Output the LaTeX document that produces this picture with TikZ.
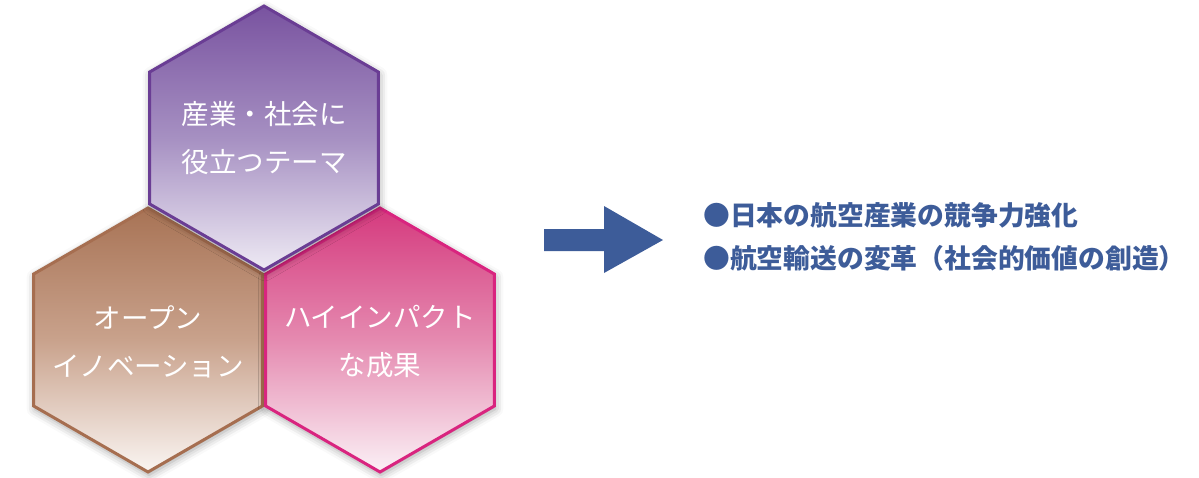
\documentclass[tikz,border=0pt]{standalone}
\usepackage{fontspec}
\newfontfamily\jp{Noto Sans CJK JP}
\usetikzlibrary{shapes.geometric,shadows.blur}
\definecolor{purpTop}{HTML}{7953A0}
\definecolor{purpMid}{HTML}{A690C2}
\definecolor{purpBot}{HTML}{EEEAF4}
\definecolor{purpLine}{HTML}{6A3D94}
\definecolor{brTop}{HTML}{A87355}
\definecolor{brMid}{HTML}{C9A28C}
\definecolor{brBot}{HTML}{FAF5F2}
\definecolor{brLine}{HTML}{A66E50}
\definecolor{pkTop}{HTML}{D53A7E}
\definecolor{pkMid}{HTML}{E58AB0}
\definecolor{pkBot}{HTML}{FBF1F6}
\definecolor{pkLine}{HTML}{D9247F}
\definecolor{arrowblue}{HTML}{3D5C99}
\tikzset{
  hexa/.style={regular polygon, regular polygon sides=6, shape border rotate=30,
    minimum size=264pt, inner sep=0pt, line width=3pt,
    blur shadow={shadow xshift=1pt, shadow yshift=-3pt, shadow blur radius=8pt, shadow opacity=38}},
  hextext/.style={align=center, text=white, inner sep=0pt,
    font=\jp\fontsize{27.5}{48}\selectfont},
  result/.style={anchor=west, text=arrowblue, inner sep=0pt,
    font=\jp\bfseries\fontsize{26.8}{30}\selectfont}
}
\begin{document}
\begin{tikzpicture}[x=1pt,y=-1pt]
\useasboundingbox (0,0) rectangle (1199,477);
\node[hexa, draw=brLine, top color=brTop, bottom color=brBot, middle color=brMid] (hl) at (148,340) {};
\node[hexa, draw=pkLine, top color=pkTop, bottom color=pkBot, middle color=pkMid] (hr) at (380,340) {};
\node[hexa, draw=purpLine, top color=purpTop, bottom color=purpBot, middle color=purpMid] (ht) at (264,138) {};
\node[hextext] (tt) at (ht.center) {産業・社会に\\役立つテーマ};
\node[hextext] (tl) at (148,342) {オープン\\イノベーション};
\node[hextext] (tr) at (380,342) {ハイインパクト\\な成果};
\fill[arrowblue] (544,229) -- (604,229) -- (604,206) -- (663,240) -- (604,273) -- (604,251) -- (544,251) -- cycle;
\node[result] (r1) at (703,215) {●日本の航空産業の競争力強化};
\node[result] (r2) at (703,258) {●航空輸送の変革（社会的価値の創造）};
\end{tikzpicture}
\end{document}
